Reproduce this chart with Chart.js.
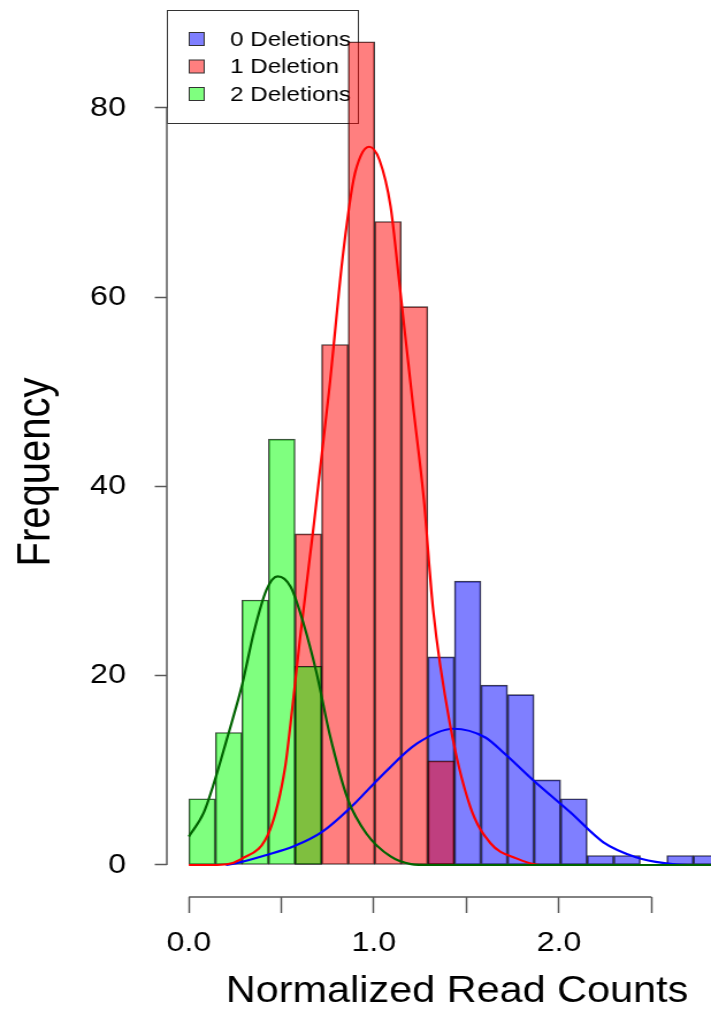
<!DOCTYPE html>
<html>
<head>
<meta charset="utf-8">
<script src="https://cdn.jsdelivr.net/npm/chart.js@4.4.1/dist/chart.umd.min.js"></script>
<style>
  html, body { margin: 0; padding: 0; background: #fff; }
</style>
</head>
<body>
<!-- drawn a bit narrower and stretched, the reference text is wide -->
<canvas id="chart" width="618" height="1014" style="width:711px;height:1014px"></canvas>
<script>
// all three histograms share one bin grid
const binWidth = 0.1435;
const groupLabels = ['0 Deletions', '1 Deletion', '2 Deletions'];

// counts, first entry is bin number ...Start
const zeroDelStart = 9;
const zeroDelCounts = [22, 30, 19, 18, 9, 7, 1, 1, 0, 1, 1];
const oneDelStart = 4;
const oneDelCounts = [35, 55, 87, 68, 59, 11];
const twoDelStart = 0;
const twoDelCounts = [7, 14, 28, 45, 21];

// density curves (in counts)
const zeroDelCurveX = [0.2, 0.28, 0.41, 0.57, 0.72, 0.87, 1.05, 1.23, 1.43, 1.6, 1.71, 1.87, 2.06, 2.24, 2.42, 2.57, 2.7, 2.83];
const zeroDelCurveY = [0, 0.3, 1.0, 2.0, 3.5, 6.0, 9.6, 12.8, 14.4, 13.5, 11.7, 8.8, 5.6, 2.4, 0.8, 0.2, 0, 0];
const oneDelCurveX = [0, 0.13, 0.28, 0.44, 0.52, 0.55, 0.6, 0.67, 0.76, 0.83, 0.89, 0.93, 0.975, 1.03, 1.09, 1.14, 1.21, 1.27, 1.32, 1.41, 1.52, 1.63, 1.77, 1.9, 2.83];
const oneDelCurveY = [0, 0, 0.6, 3.8, 10.3, 15.0, 23.8, 35.1, 50.5, 64.0, 72.4, 75.0, 75.9, 74.5, 69.6, 61.1, 48.8, 38.6, 27.0, 15.0, 6.2, 2.3, 0.7, 0, 0];
const twoDelCurveX = [0, 0.08, 0.13, 0.21, 0.29, 0.35, 0.42, 0.48, 0.55, 0.62, 0.69, 0.76, 0.86, 0.96, 1.09, 1.2, 1.3, 2.83];
const twoDelCurveY = [3.0, 5.5, 8.3, 13.6, 19.2, 24.5, 29.1, 30.5, 29.4, 25.5, 20.3, 13.9, 6.9, 3.3, 0.9, 0.1, 0, 0];

const xTicks = [0, 0.5, 1, 1.5, 2, 2.5];
const xTickLabels = ['0.0', '', '1.0', '', '2.0', ''];
const yTicks = [0, 20, 40, 60, 80];
const xTitle = 'Normalized Read Counts';
const yTitle = 'Frequency';

const fills = ['rgba(0,0,255,0.5)', 'rgba(255,0,0,0.5)', 'rgba(0,255,0,0.5)'];
const lineColors = ['#0000ff', '#ff0000', '#006400'];
const axisColor = '#595959';
const fontFamily = "'Liberation Sans', Arial, sans-serif";
const sx = 711 / 618; // css stretch of the canvas

function bins(start, counts) {
  const out = [];
  counts.forEach((c, i) => {
    if (c > 0) out.push({ x: (start + i + 0.5) * binWidth, y: c });
  });
  return out;
}

function curve(xs, ys) {
  return xs.map((x, i) => ({ x: x, y: ys[i] }));
}

function barSet(k, data, order) {
  return {
    type: 'bar', label: groupLabels[k], data: data,
    backgroundColor: fills[k], borderColor: 'rgba(0,0,0,0.75)', borderWidth: 1,
    borderSkipped: false, grouped: false, barPercentage: 1, categoryPercentage: 1,
    order: order
  };
}

function lineSet(k, data, order) {
  return {
    type: 'line', label: groupLabels[k] + ' density', data: data,
    borderColor: lineColors[k], borderWidth: 2.2, pointRadius: 0, fill: false,
    cubicInterpolationMode: 'monotone', order: order
  };
}

// R style axes: line only between first and last tick
const axisLines = {
  id: 'axisLines',
  afterDraw(chart) {
    const { ctx, chartArea, scales } = chart;
    ctx.save();
    ctx.strokeStyle = axisColor;
    ctx.lineWidth = 1.5;
    ctx.beginPath();
    ctx.moveTo(chartArea.left, scales.y.getPixelForValue(yTicks[0]));
    ctx.lineTo(chartArea.left, scales.y.getPixelForValue(yTicks[yTicks.length - 1]));
    ctx.moveTo(scales.x.getPixelForValue(xTicks[0]), chartArea.bottom);
    ctx.lineTo(scales.x.getPixelForValue(xTicks[xTicks.length - 1]), chartArea.bottom);
    ctx.stroke();

    ctx.fillStyle = '#000';
    ctx.font = '36px ' + fontFamily;
    ctx.textAlign = 'center';
    ctx.textBaseline = 'alphabetic';
    ctx.fillText(xTitle, 457 / sx, 1002);

    ctx.font = '40px ' + fontFamily;
    ctx.translate(50 / sx, 472);
    ctx.rotate(-Math.PI / 2);
    ctx.fillText(yTitle, 0, 0);
    ctx.restore();
  }
};

// legend box in the top left corner, under the bars
const boxLegend = {
  id: 'boxLegend',
  beforeDatasetsDraw(chart) {
    const ctx = chart.ctx;
    const left = chart.chartArea.left + 0.5;
    ctx.save();
    ctx.fillStyle = '#fff';
    ctx.strokeStyle = '#333';
    ctx.lineWidth = 1;
    ctx.fillRect(left, 10.5, 166, 113);
    ctx.strokeRect(left, 10.5, 166, 113);
    ctx.font = '21px ' + fontFamily;
    ctx.textAlign = 'left';
    ctx.textBaseline = 'middle';
    groupLabels.forEach((label, i) => {
      const cy = 39 + i * 27.5;
      ctx.fillStyle = fills[i];
      ctx.fillRect(left + 19, cy - 6.5, 13, 13);
      ctx.strokeRect(left + 19, cy - 6.5, 13, 13);
      ctx.fillStyle = '#000';
      ctx.fillText(label, 200, cy + 1);
    });
    ctx.restore();
  }
};

Chart.defaults.font.family = fontFamily;

new Chart(document.getElementById('chart'), {
  type: 'bar',
  data: {
    datasets: [
      lineSet(2, curve(twoDelCurveX, twoDelCurveY), 0),
      lineSet(1, curve(oneDelCurveX, oneDelCurveY), 1),
      lineSet(0, curve(zeroDelCurveX, zeroDelCurveY), 2),
      barSet(2, bins(twoDelStart, twoDelCounts), 3),
      barSet(1, bins(oneDelStart, oneDelCounts), 4),
      barSet(0, bins(zeroDelStart, zeroDelCounts), 5)
    ]
  },
  options: {
    responsive: false,
    devicePixelRatio: 1,
    animation: false,
    events: [],
    layout: { padding: 0 },
    plugins: { legend: { display: false }, tooltip: { enabled: false } },
    scales: {
      x: {
        type: 'linear',
        min: -0.1189,
        max: 2.8216,
        offset: false,
        afterBuildTicks: s => { s.ticks = xTicks.map(v => ({ value: v })); },
        afterFit: s => { s.height = 117; s.paddingLeft = 0; s.paddingRight = 0; },
        grid: { offset: false, drawOnChartArea: false, drawTicks: true, tickLength: 16, tickColor: axisColor, tickWidth: 1.5 },
        border: { display: false },
        ticks: {
          autoSkip: false, maxRotation: 0, padding: 13, color: '#000',
          font: { size: 28 },
          callback: (v, i) => xTickLabels[i]
        }
      },
      y: {
        type: 'linear',
        min: -3.382,
        max: 91.41,
        afterBuildTicks: s => { s.ticks = yTicks.map(v => ({ value: v })); },
        afterFit: s => { s.width = 145; s.paddingTop = 0; s.paddingBottom = 0; },
        grid: { drawOnChartArea: false, drawTicks: true, tickLength: 10.5, tickColor: axisColor, tickWidth: 1.5 },
        border: { display: false },
        ticks: {
          padding: 25, color: '#000',
          font: { size: 28 },
          callback: v => String(v)
        }
      }
    }
  },
  plugins: [boxLegend, axisLines]
});
</script>
</body>
</html>
